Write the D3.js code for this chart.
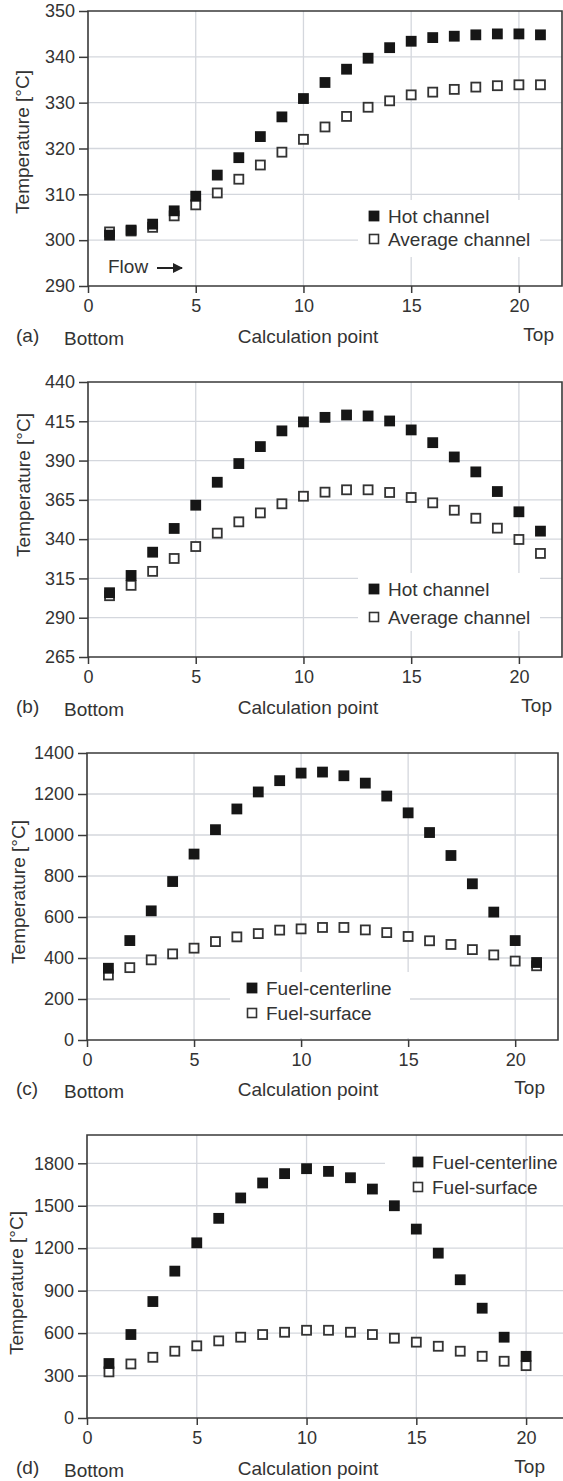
<!DOCTYPE html>
<html><head><meta charset="utf-8">
<script src="https://cdn.jsdelivr.net/npm/d3@7"></script>
<style>
body{margin:0;background:#fff}
svg{display:block}
text{font-family:"Liberation Sans",Arial,Helvetica,sans-serif;fill:#333}
</style>
</head><body>
<svg id="chart" width="563" height="1481"></svg>
<script>
// ---------- data ----------
const calcPoints21 = [1,2,3,4,5,6,7,8,9,10,11,12,13,14,15,16,17,18,19,20,21];
const calcPoints20 = [1,2,3,4,5,6,7,8,9,10,11,12,13,14,15,16,17,18,19,20];
const xTickValues = [0,5,10,15,20];

const hotChannelA = [301.1,302.2,303.5,306.4,309.6,314.2,318.0,322.6,326.9,330.9,334.4,337.3,339.7,342.0,343.4,344.2,344.5,344.8,345.0,345.0,344.8];
const avgChannelA = [301.8,302.0,302.8,305.3,307.7,310.3,313.3,316.4,319.2,322.0,324.7,327.0,329.0,330.4,331.7,332.3,332.9,333.4,333.7,333.9,333.9];
const yTicksA = [290,300,310,320,330,340,350];

const hotChannelB = [305.9,316.9,331.7,346.8,361.6,376.2,388.1,398.9,408.9,414.6,417.5,419.0,418.4,415.2,409.5,401.4,392.3,382.8,370.3,357.4,345.1];
const avgChannelB = [304.0,310.6,319.5,327.7,335.3,343.8,351.0,356.7,362.5,367.3,369.9,371.4,371.4,369.7,366.5,363.1,358.4,353.3,347.0,339.8,330.9];
const yTicksB = [265,290,315,340,365,390,415,440];

const fuelCenterC = [350,485,630,773,907,1026,1127,1210,1265,1302,1307,1289,1253,1190,1108,1012,900,762,624,485,378];
const fuelSurfaceC = [317,353,391,420,448,480,503,519,536,542,549,549,537,524,505,484,466,441,415,385,362];
const yTicksC = [0,200,400,600,800,1000,1200,1400];

const fuelCenterD = [385,590,823,1038,1238,1411,1555,1661,1727,1762,1743,1698,1618,1500,1335,1165,977,776,571,436];
const fuelSurfaceD = [326,382,429,472,510,545,571,590,606,620,620,606,590,564,536,507,472,436,401,370];
const yTicksD = [0,300,600,900,1200,1500,1800];

const legendHot = ["Hot channel","Average channel"];
const legendFuel = ["Fuel-centerline","Fuel-surface"];
const panelLetters = ["(a)","(b)","(c)","(d)"];

// ---------- layout ----------
const panels = [
  {letter:panelLetters[0], xs:calcPoints21, filled:hotChannelA, open:avgChannelA, yTicks:yTicksA, yDomain:[290,350],
   left:88, right:562, top:11, bottom:286, legend:legendHot, legX:374, legY:[216,239],
   mask:{x:358,y:200,w:182,h:57}, maskFirst:false, ylab:[22,142], rowBase:343, topEnd:554, flow:true},
  {letter:panelLetters[1], xs:calcPoints21, filled:hotChannelB, open:avgChannelB, yTicks:yTicksB, yDomain:[265,440],
   left:88, right:562, top:382, bottom:657, legend:legendHot, legX:374, legY:[589,617],
   mask:{x:358,y:573,w:182,h:58}, maskFirst:false, ylab:[23,485], rowBase:714, topEnd:552},
  {letter:panelLetters[2], xs:calcPoints21, filled:fuelCenterC, open:fuelSurfaceC, yTicks:yTicksC, yDomain:[0,1400],
   left:87, right:558, top:753, bottom:1040, legend:legendFuel, legX:252, legY:[988,1013],
   mask:{x:230,y:972,w:180,h:66}, maskFirst:false, ylab:[18,892], rowBase:1096, topEnd:545},
  {letter:panelLetters[3], xs:calcPoints20, filled:fuelCenterD, open:fuelSurfaceD, yTicks:yTicksD, yDomain:[0,2000],
   left:87, right:570, top:1135, bottom:1418, legend:legendFuel, legX:418, legY:[1162,1187],
   mask:{x:385,y:1150,w:180,h:26}, maskFirst:true, ylab:[16,1283], rowBase:1475, topEnd:545}
];

const svg = d3.select("#chart");
const FS = 18;     // tick labels
const LFS = 19;    // other labels
const gridColor = "#d4d7dd";
const frameColor = "#3a3a3a";

svg.append("defs").append("marker")
  .attr("id","arrow").attr("viewBox","0 0 10 10").attr("refX",9).attr("refY",5)
  .attr("markerWidth",5).attr("markerHeight",5).attr("orient","auto")
  .append("path").attr("d","M0,0 L10,5 L0,10 z").attr("fill","#222");

panels.forEach(p => {
  const g = svg.append("g");
  const x = d3.scaleLinear().domain([0,22]).range([p.left, p.right]);
  const y = d3.scaleLinear().domain(p.yDomain).range([p.bottom, p.top]);

  const drawMask = () => g.append("rect").attr("x",p.mask.x).attr("y",p.mask.y)
      .attr("width",p.mask.w).attr("height",p.mask.h).attr("fill","#fff");

  g.append("g").selectAll("line").data(p.yTicks.filter(v => v > p.yDomain[0] && y(v) > p.top + 1))
    .join("line").attr("x1",p.left).attr("x2",Math.min(p.right,563))
    .attr("y1",d=>y(d)).attr("y2",d=>y(d)).attr("stroke",gridColor).attr("stroke-width",1.3);
  if (p.maskFirst) drawMask();
  g.append("g").selectAll("line").data(xTickValues.filter(v => v > 0))
    .join("line").attr("x1",d=>x(d)).attr("x2",d=>x(d))
    .attr("y1",p.top).attr("y2",p.bottom).attr("stroke",gridColor).attr("stroke-width",1.3);
  if (!p.maskFirst) drawMask();

  g.append("path").attr("d",`M${p.left},${p.bottom}V${p.top}H${p.right}V${p.bottom}Z`)
    .attr("fill","none").attr("stroke",frameColor).attr("stroke-width",1.6);

  const yAxis = g.append("g").attr("transform",`translate(${p.left},0)`)
    .call(d3.axisLeft(y).tickValues(p.yTicks).tickSize(9).tickPadding(4).tickFormat(d3.format("d")));
  const xAxis = g.append("g").attr("transform",`translate(0,${p.bottom})`)
    .call(d3.axisBottom(x).tickValues(xTickValues).tickSize(7).tickPadding(6).tickFormat(d3.format("d")));
  [yAxis,xAxis].forEach(a => {
    a.select(".domain").remove();
    a.selectAll(".tick line").attr("stroke",frameColor).attr("stroke-width",1.5);
    a.selectAll(".tick text").attr("font-size",FS).attr("fill","#333")
      .style("font-family",'"Liberation Sans",Arial,sans-serif');
  });

  const s = 10.8;
  g.append("g").selectAll("rect").data(p.xs.map((c,i)=>({c, v:p.open[i]})))
    .join("rect").attr("x",d=>x(d.c)-s/2+0.9).attr("y",d=>y(d.v)-s/2+0.9)
    .attr("width",s-1.8).attr("height",s-1.8).attr("fill","#fff")
    .attr("stroke","#333").attr("stroke-width",1.8);
  g.append("g").selectAll("rect").data(p.xs.map((c,i)=>({c, v:p.filled[i]})))
    .join("rect").attr("x",d=>x(d.c)-s/2).attr("y",d=>y(d.v)-s/2)
    .attr("width",s).attr("height",s).attr("fill","#161616");

  g.append("rect").attr("x",p.legX-5.4).attr("y",p.legY[0]-5.4).attr("width",10.8).attr("height",10.8).attr("fill","#161616");
  g.append("rect").attr("x",p.legX-4.5).attr("y",p.legY[1]-4.5).attr("width",9).attr("height",9)
    .attr("fill","#fff").attr("stroke","#333").attr("stroke-width",1.6);
  p.legend.forEach((t,i) => {
    g.append("text").attr("x",p.legX+14).attr("y",p.legY[i]+7).attr("font-size",LFS).text(t);
  });

  g.append("text").attr("transform",`translate(${p.ylab[0]},${p.ylab[1]}) rotate(-90)`)
    .attr("text-anchor","middle").attr("dy","0.35em").attr("font-size",LFS).text("Temperature [°C]");

  g.append("text").attr("x",16).attr("y",p.rowBase-1).attr("font-size",LFS).text(p.letter);
  g.append("text").attr("x",64).attr("y",p.rowBase+2).attr("font-size",LFS).text("Bottom");
  g.append("text").attr("x",308).attr("y",p.rowBase).attr("text-anchor","middle").attr("font-size",LFS).text("Calculation point");
  g.append("text").attr("x",p.topEnd).attr("y",p.rowBase-2).attr("text-anchor","end").attr("font-size",LFS).text("Top");

  if (p.flow) {
    g.append("text").attr("x",108).attr("y",273).attr("font-size",LFS).text("Flow");
    g.append("line").attr("x1",157).attr("x2",182).attr("y1",268).attr("y2",268)
      .attr("stroke","#222").attr("stroke-width",2).attr("marker-end","url(#arrow)");
  }
});
</script>
</body></html>
